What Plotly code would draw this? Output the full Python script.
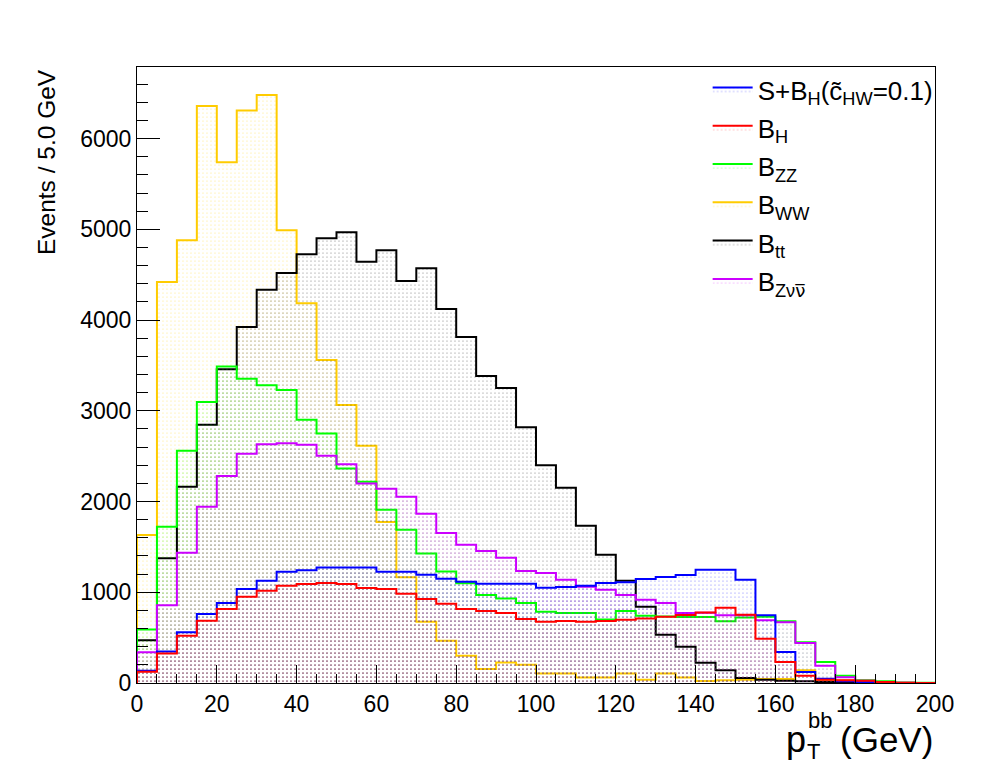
import numpy as np
import plotly.graph_objects as go

# bin edges of the pT(bb) histograms, 5 GeV bins from 0 to 200
edges = np.arange(0, 205, 5)

# events per bin
b_ww = [1630, 4420, 4880, 6360, 5740, 6310, 6480, 4990, 4185, 3560,
        3065, 2615, 1775, 1165, 675, 465, 300, 155, 225, 200,
        105, 105, 60, 60, 105, 35, 105, 60, 22, 31,
        37, 44, 44, 141, 25, 30, 10, 5, 0, 0]
b_tt = [471, 1376, 2162, 2845, 3458, 3924, 4335, 4519, 4725, 4901,
        4967, 4644, 4769, 4431, 4570, 4122, 3814, 3384, 3252, 2819,
        2401, 2151, 1733, 1413, 1127, 840, 532, 400, 224, 141,
        55, 37, 25, 18, 12, 5, 3, 0, 0, 0]
b_zz = [589, 1722, 2559, 3098, 3489, 3353, 3282, 3230, 2900, 2750,
        2365, 2217, 1909, 1688, 1428, 1230, 1098, 969, 932, 881,
        785, 771, 771, 701, 793, 741, 734, 727, 727, 681,
        723, 729, 681, 449, 231, 80, 30, 18, 5, 2]
b_znn = [339, 857, 1435, 1942, 2280, 2526, 2632, 2643, 2625, 2504,
         2412, 2199, 2140, 2052, 1865, 1652, 1523, 1454, 1380, 1233,
         1211, 1138, 1061, 1028, 969, 918, 881, 771, 773, 747,
         747, 692, 670, 442, 190, 62, 25, 8, 3, 0]
s_plus_bh = [135, 347, 558, 760, 881, 1035, 1127, 1226, 1244, 1274,
             1274, 1274, 1226, 1226, 1193, 1149, 1116, 1094, 1094, 1094,
             1050, 1057, 1072, 1101, 1109, 1145, 1168, 1189, 1248, 1248,
             1138, 747, 341, 121, 47, 20, 8, 3, 0, 0]
b_h = [123, 325, 521, 686, 815, 950, 1017, 1072, 1090, 1101,
       1090, 1046, 1035, 984, 925, 873, 815, 793, 771, 705,
       675, 683, 675, 683, 697, 712, 730, 749, 778, 828,
       752, 488, 231, 80, 37, 30, 25, 10, 3, 0]

NUBAR = '<span style="font-family:DejaVu Sans">\u03bd\u0305</span>'

# drawing order (first drawn at the back), legend rank, label, colour
series = [
    (b_ww, 4, "B<sub>WW</sub>", "#ffcc00"),
    (b_tt, 5, "B<sub>tt</sub>", "#000000"),
    (b_zz, 3, "B<sub>ZZ</sub>", "#00ff00"),
    (b_znn, 6, "B<sub>Z\u03bd" + NUBAR + "</sub>", "#cc00ff"),
    (s_plus_bh, 1, "S+B<sub>H</sub>(c\u0303<sub>HW</sub>=0.1)", "#0000ff"),
    (b_h, 2, "B<sub>H</sub>", "#ff0000"),
]

FONT = "Liberation Sans"
W, H = 998, 771
OFF = 8  # page body margin of the html file
L, R, T, B = 137, 935.5, 67, 683.5


def px(x):
    return (x - L) / (R - L)


def py(y):
    return (B - y) / (B - T)


fig = go.Figure()
for vals, rank, name, col in series:
    xs = [edges[0]] + list(edges)
    ys = [0] + list(vals) + [vals[-1]]
    fig.add_trace(go.Scatter(
        x=xs, y=ys, mode="lines", name=name, legendrank=rank,
        legendgroup=name,
        line=dict(color=col, width=2, shape="hv"),
        fill="tozeroy", fillcolor="rgba(0,0,0,0)",
        fillpattern=dict(shape=".", fgcolor=col, bgcolor="rgba(0,0,0,0)",
                         size=4, solidity=0.075),
        hoverinfo="skip",
    ))

fig.update_layout(
    width=W - OFF, height=H - OFF, autosize=False,
    margin=dict(l=L - OFF, r=W - R, t=T - OFF, b=H - B, pad=0),
    paper_bgcolor="white", plot_bgcolor="white",
    font=dict(family=FONT, size=23, color="black"),
    showlegend=True,
    legend=dict(x=px(708), y=py(66), xanchor="left", yanchor="top",
                bgcolor="rgba(0,0,0,0)", font=dict(size=26),
                itemwidth=40, tracegroupgap=1.5, traceorder="grouped"),
)
fig.update_xaxes(
    range=[0, 200], dtick=20, tick0=0, showgrid=False, zeroline=False,
    ticks="inside", ticklen=18, tickwidth=1, tickcolor="black",
    minor=dict(dtick=5, ticks="inside", ticklen=9, tickcolor="black", showgrid=False),
    showline=True, mirror=True, linecolor="black", linewidth=1,
    tickfont=dict(size=23),
)
fig.update_yaxes(
    range=[0, 6789], dtick=1000, tick0=0, showgrid=False, zeroline=False,
    ticks="inside", ticklen=23, tickwidth=1, tickcolor="black",
    minor=dict(dtick=200, ticks="inside", ticklen=11, tickcolor="black", showgrid=False),
    showline=True, mirror=True, linecolor="black", linewidth=1,
    tickfont=dict(size=23),
)

# axis titles, ROOT style
ann = [
    dict(text="Events / 5.0 GeV", x=px(46), y=py(67), textangle=-90,
         xanchor="center", yanchor="top", font=dict(size=24.5)),
    dict(text="(GeV)", x=px(935), y=py(740), xanchor="right", yanchor="middle",
         font=dict(size=35)),
    dict(text="p", x=px(784), y=py(740), xanchor="left", yanchor="middle",
         font=dict(size=36)),
    dict(text="bb", x=px(806), y=py(721), xanchor="left", yanchor="middle",
         font=dict(size=22)),
    dict(text="T", x=px(805), y=py(752), xanchor="left", yanchor="middle",
         font=dict(size=22)),
]
for a in ann:
    fig.add_annotation(xref="paper", yref="paper", showarrow=False, **a)

fig.write_html("out.html")
